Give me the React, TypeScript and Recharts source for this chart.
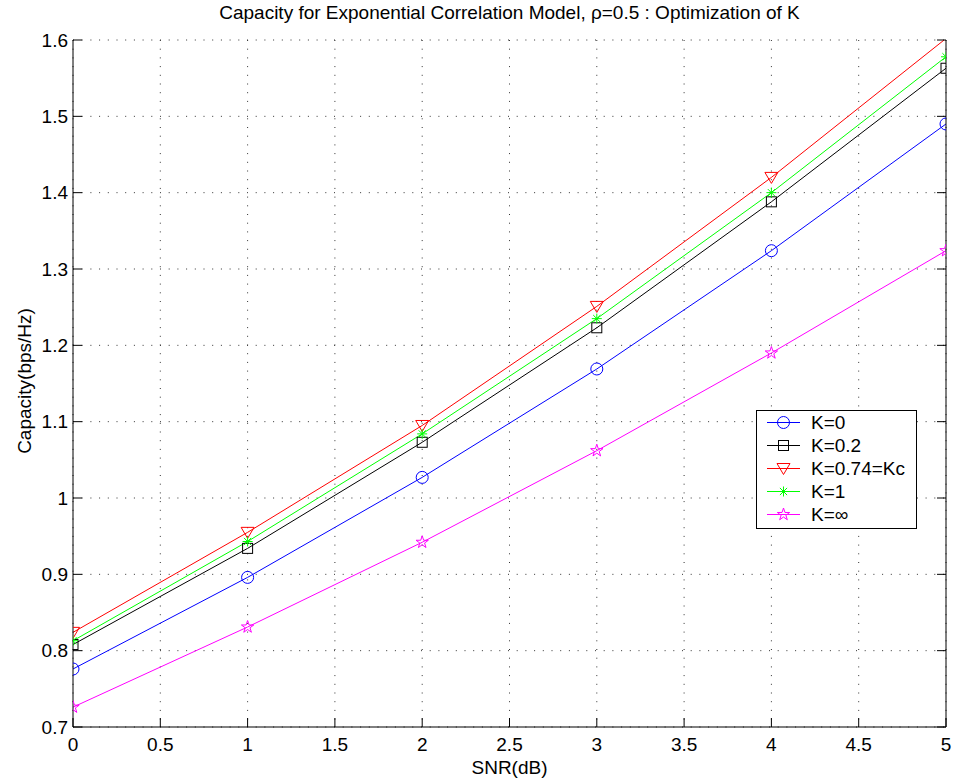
import { CartesianGrid, Legend, Line, LineChart, XAxis, YAxis } from 'recharts'

const snr = [0, 1, 2, 3, 4, 5]
const capK0 = [0.776, 0.896, 1.027, 1.169, 1.324, 1.49]
const capK02 = [0.808, 0.934, 1.073, 1.223, 1.388, 1.563]
const capK074 = [0.824, 0.955, 1.095, 1.251, 1.42, 1.602]
const capK1 = [0.813, 0.943, 1.084, 1.235, 1.4, 1.578]
const capKinf = [0.726, 0.831, 0.942, 1.062, 1.19, 1.324]

const xTicks = [0, 0.5, 1, 1.5, 2, 2.5, 3, 3.5, 4, 4.5, 5]
const yTicks = [0.7, 0.8, 0.9, 1, 1.1, 1.2, 1.3, 1.4, 1.5, 1.6]

const seriesLabels = ['K=0', 'K=0.2', 'K=0.74=Kc', 'K=1', 'K=∞']
const seriesKeys = ['k0', 'k02', 'k074', 'k1', 'kinf']
const seriesColors = ['#0000ff', '#000000', '#ff0000', '#00ff00', '#ff00ff']
const seriesMarkers = ['circle', 'square', 'triangle', 'asterisk', 'star']

const data = snr.map((x, i) => ({
  snr: x,
  k0: capK0[i],
  k02: capK02[i],
  k074: capK074[i],
  k1: capK1[i],
  kinf: capKinf[i],
}))

const FONT = '"Liberation Sans", Arial, Helvetica, sans-serif'
const W = 957
const H = 781
const Y_MAX = 1.6

function Marker({ kind, cx, cy, color }: { kind: string; cx: number; cy: number; color: string }) {
  const common = { fill: 'none', stroke: color, strokeWidth: 1 }
  if (kind === 'circle') return <circle cx={cx} cy={cy} r={6} {...common} />
  if (kind === 'square') return <rect x={cx - 5} y={cy - 5} width={10} height={10} {...common} />
  if (kind === 'triangle')
    return <polygon points={`${cx - 6.5},${cy - 5} ${cx + 6.5},${cy - 5} ${cx},${cy + 6}`} {...common} />
  if (kind === 'asterisk')
    return (
      <path
        d={`M${cx - 5},${cy}H${cx + 5}M${cx},${cy - 5}V${cy + 5}M${cx - 3.6},${cy - 3.6}L${cx + 3.6},${cy + 3.6}M${cx - 3.6},${cy + 3.6}L${cx + 3.6},${cy - 3.6}`}
        {...common}
      />
    )
  // pentagram
  const pts: string[] = []
  for (let i = 0; i < 10; i++) {
    const r = i % 2 === 0 ? 6.5 : 2.5
    const a = -Math.PI / 2 + (i * Math.PI) / 5
    pts.push(`${cx + r * Math.cos(a)},${cy + r * Math.sin(a)}`)
  }
  return <polygon points={pts.join(' ')} {...common} />
}

function LegendBox() {
  return (
    <div
      style={{
        width: 161,
        border: '1px solid #000',
        background: '#fff',
        boxSizing: 'border-box',
        fontFamily: FONT,
        fontSize: 19,
        color: '#000',
        paddingBottom: 2,
      }}
    >
      {seriesLabels.map((label, i) => (
        <div key={label} style={{ height: 23, display: 'flex', alignItems: 'center' }}>
          <svg width={54} height={23} style={{ display: 'block' }}>
            <line x1={10} x2={43} y1={11.5} y2={11.5} stroke={seriesColors[i]} strokeWidth={1} />
            <Marker kind={seriesMarkers[i]} cx={26.5} cy={11.5} color={seriesColors[i]} />
          </svg>
          <span style={{ lineHeight: '23px', whiteSpace: 'nowrap' }}>{label}</span>
        </div>
      ))}
    </div>
  )
}

const tickStyle = { fontSize: 19, fill: '#000', fontFamily: FONT }

export default function App() {
  return (
    <div style={{ position: 'absolute', left: 0, top: 0, width: W, height: H, background: '#fff' }}>
      <LineChart width={W} height={H} data={data} margin={{ top: 40, right: 0, bottom: 0, left: 0 }}>
        <CartesianGrid stroke="#333" strokeDasharray="1 7.7" />
        <XAxis
          dataKey="snr"
          type="number"
          domain={[0, 5]}
          ticks={xTicks}
          interval={0}
          allowDataOverflow
          height={54}
          tickSize={-9}
          tickMargin={20}
          tick={tickStyle}
          tickLine={{ stroke: '#000' }}
          axisLine={{ stroke: '#000' }}
        />
        <XAxis
          xAxisId="top"
          orientation="top"
          dataKey="snr"
          type="number"
          domain={[0, 5]}
          ticks={xTicks}
          interval={0}
          allowDataOverflow
          height={0}
          tickSize={-9}
          tickFormatter={() => ''}
          tickLine={{ stroke: '#000' }}
          axisLine={{ stroke: '#000' }}
        />
        <YAxis
          type="number"
          domain={[0.7, Y_MAX]}
          ticks={yTicks}
          interval={0}
          allowDataOverflow
          width={73}
          tickSize={-9}
          tickMargin={14}
          tick={tickStyle}
          tickLine={{ stroke: '#000' }}
          axisLine={{ stroke: '#000' }}
        />
        <YAxis
          yAxisId="right"
          orientation="right"
          type="number"
          domain={[0.7, Y_MAX]}
          ticks={yTicks}
          interval={0}
          allowDataOverflow
          width={11}
          tickSize={-9}
          tickFormatter={() => ''}
          tickLine={{ stroke: '#000' }}
          axisLine={{ stroke: '#000' }}
        />
        <Legend
          layout="vertical"
          align="center"
          verticalAlign="middle"
          content={() => <LegendBox />}
          wrapperStyle={{ left: 756, top: 410, width: 161 }}
        />
        {seriesKeys.map((key, i) => (
          <Line
            key={key}
            dataKey={key}
            name={seriesLabels[i]}
            type="linear"
            stroke={seriesColors[i]}
            strokeWidth={1}
            isAnimationActive={false}
            dot={(p: any) =>
              p.value > Y_MAX ? (
                <g key={`${key}-${p.index}`} />
              ) : (
                <Marker key={`${key}-${p.index}`} kind={seriesMarkers[i]} cx={p.cx} cy={p.cy} color={seriesColors[i]} />
              )
            }
            activeDot={false}
          />
        ))}
      </LineChart>
      <div
        style={{
          position: 'absolute',
          left: 73,
          width: 873,
          top: 1,
          textAlign: 'center',
          fontFamily: FONT,
          fontSize: 19,
          lineHeight: '24px',
          color: '#000',
          whiteSpace: 'nowrap',
        }}
      >
        Capacity for Exponential Correlation Model, ρ=0.5 : Optimization of K
      </div>
      <div
        style={{
          position: 'absolute',
          left: 73,
          width: 873,
          top: 756,
          textAlign: 'center',
          fontFamily: FONT,
          fontSize: 19,
          lineHeight: '24px',
          color: '#000',
        }}
      >
        SNR(dB)
      </div>
      <div
        style={{
          position: 'absolute',
          left: 25,
          top: 381,
          transform: 'translate(-50%, -50%) rotate(-90deg)',
          fontFamily: FONT,
          fontSize: 19,
          lineHeight: '24px',
          color: '#000',
          whiteSpace: 'nowrap',
        }}
      >
        Capacity(bps/Hz)
      </div>
    </div>
  )
}
